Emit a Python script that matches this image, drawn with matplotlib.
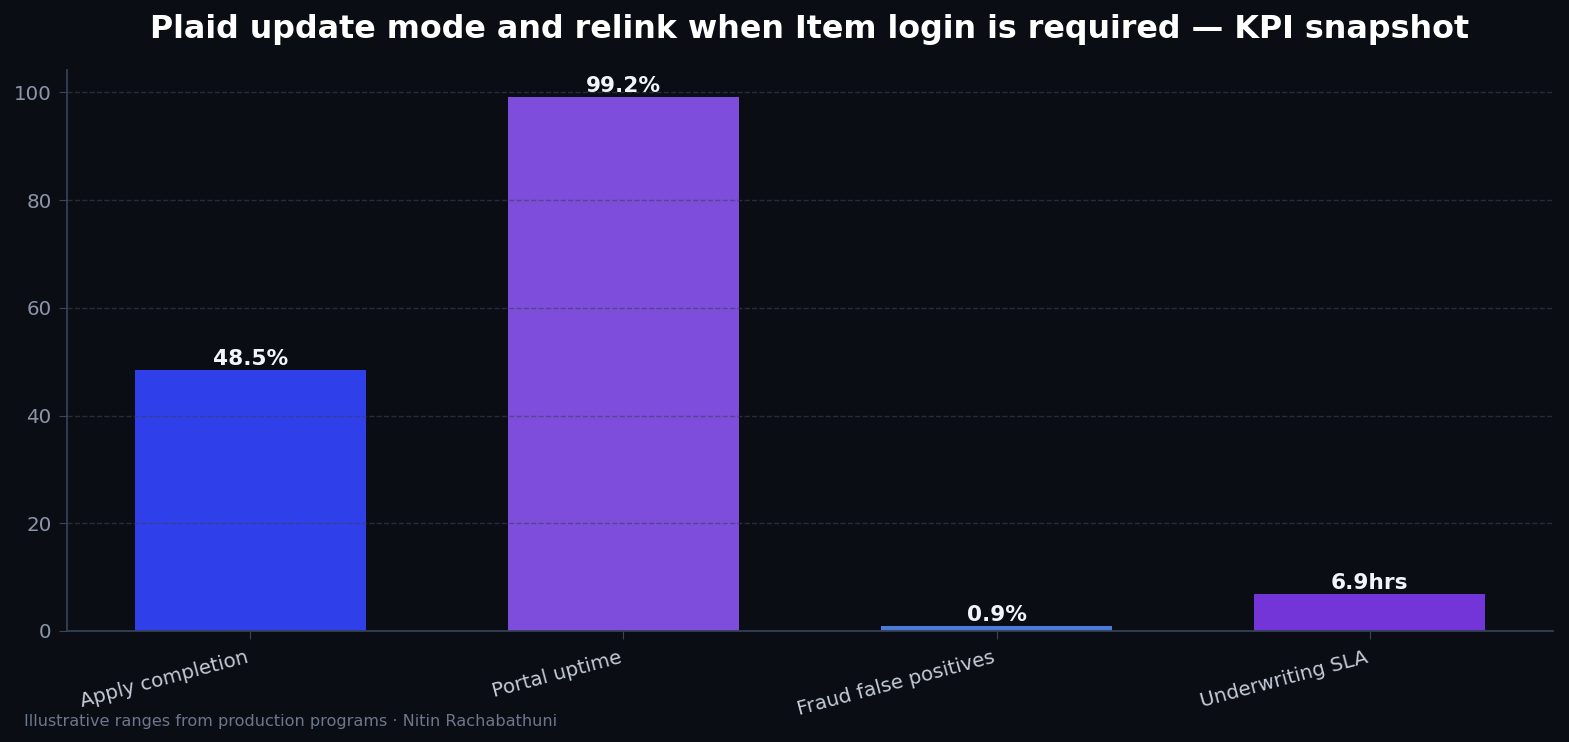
import matplotlib
matplotlib.use("Agg")
import matplotlib.pyplot as plt

# data
categories = ["Apply completion", "Portal uptime", "Fraud false positives", "Underwriting SLA"]
values = [48.5, 99.2, 0.9, 6.9]
value_labels = ["48.5%", "99.2%", "0.9%", "6.9hrs"]
bar_colors = ["#2f40ea", "#7e4ddb", "#4a7bd6", "#7335d7"]

bg = "#0a0d14"
plt.rcParams["font.family"] = ["DejaVu Sans"]

fig = plt.figure(figsize=(15.69, 7.42), dpi=100, facecolor=bg)
ax = fig.add_axes([0.0427, 0.1496, 0.9471, 0.7561])
ax.set_facecolor(bg)

x = range(len(categories))
bars = ax.bar(x, values, width=0.62, color=bar_colors, zorder=1)

# grid sits on top of the bars
ax.set_axisbelow(False)
ax.yaxis.grid(True, linestyle="--", linewidth=1.0, color="#3a4255", alpha=0.6, zorder=2)
ax.xaxis.grid(False)

for b, lab in zip(bars, value_labels):
    ax.annotate(lab, (b.get_x() + b.get_width() / 2, b.get_height()),
                xytext=(0, 0.5), textcoords="offset points", ha="center", va="bottom",
                fontsize=15.6, fontweight="bold", color="#f1f5f9", zorder=3)

ax.set_ylim(0, max(values) * 1.05)
ax.set_yticks([0, 20, 40, 60, 80, 100])
ax.set_xticks(list(x))
ax.set_xticklabels(categories, rotation=15, ha="right", fontsize=14.3, color="#c5ccd8")
ax.tick_params(axis="y", labelsize=14.3, labelcolor="#8b95a8", color="#3a4558", length=6, pad=5)
ax.tick_params(axis="x", color="#3a4558", length=6, pad=6)

for side in ["top", "right"]:
    ax.spines[side].set_visible(False)
for side in ["left", "bottom"]:
    ax.spines[side].set_color("#334155")
    ax.spines[side].set_linewidth(1.3)

fig.suptitle("Plaid update mode and relink when Item login is required \u2014 KPI snapshot",
             x=0.516, y=0.981, fontsize=22.9, fontweight="bold", color="#ffffff")
fig.text(0.0155, 0.021, "Illustrative ranges from production programs \u00b7 Nitin Rachabathuni",
         fontsize=11.6, color="#6b778c")

fig.savefig("out.png", dpi=100, facecolor=bg)
